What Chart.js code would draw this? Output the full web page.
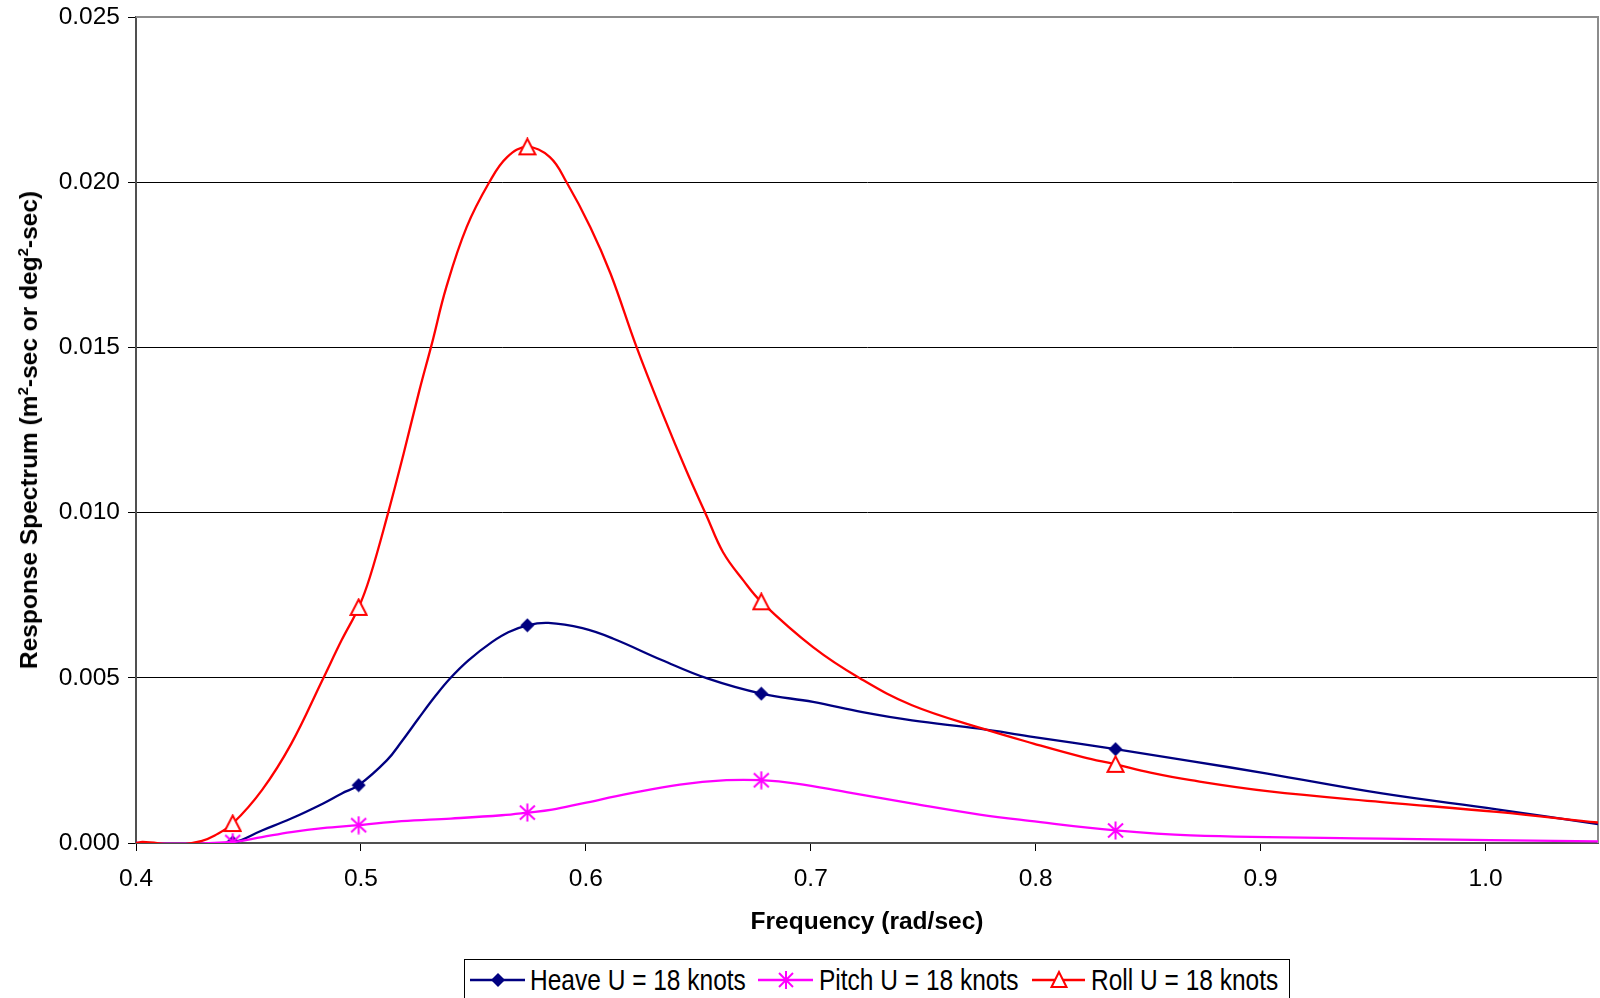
<!DOCTYPE html>
<html>
<head>
<meta charset="utf-8">
<title>Response Spectrum</title>
<script src="https://cdn.jsdelivr.net/npm/chart.js@4.4.1/dist/chart.umd.min.js"></script>
<style>
  html, body { margin: 0; padding: 0; background: #fff; }
  #wrap { position: relative; width: 1600px; height: 998px; overflow: hidden;
          font-family: "Liberation Sans", Arial, sans-serif; color: #000; }
  #chart { position: absolute; left: 0; top: 0; }
  .xtitle { position: absolute; left: 136px; width: 1462px; top: 906px; text-align: center;
            font-weight: bold; font-size: 24.5px; line-height: 30px; }
  .ytitle { position: absolute; left: 29px; top: 430px; white-space: nowrap;
            transform: translate(-50%, -50%) rotate(-90deg);
            font-weight: bold; font-size: 24.5px; line-height: 30px; }
  .ytitle sup { font-size: 15px; line-height: 0; vertical-align: 9px; }
  .legendbox { position: absolute; left: 464px; top: 959px; width: 826px; height: 70px;
               border: 1px solid #000; box-sizing: border-box; background: #fff; }
  .lgicon { position: absolute; top: 967px; }
  .lgtext { position: absolute; top: 965px; font-size: 24.5px; line-height: 30px; white-space: nowrap;
            transform: scaleY(1.2); transform-origin: 0 50%; }
</style>
</head>
<body>
<div id="wrap">
  <canvas id="chart" width="1600" height="998"></canvas>
  <div class="xtitle">Frequency (rad/sec)</div>
  <div class="ytitle">Response Spectrum (m<sup>2</sup>-sec or deg<sup>2</sup>-sec)</div>
  <div class="legendbox"></div>
  <svg class="lgicon" style="left:470px" width="56" height="26" viewBox="0 0 56 26">
    <line x1="0" y1="13" x2="55" y2="13" stroke="#000080" stroke-width="2.5"/>
    <polygon points="28,6 35,13 28,20 21,13" fill="#000080"/>
  </svg>
  <div class="lgtext" style="left:530px">Heave U = 18 knots</div>
  <svg class="lgicon" style="left:758px" width="56" height="26" viewBox="0 0 56 26">
    <line x1="0" y1="13" x2="55" y2="13" stroke="#FF00FF" stroke-width="2.5"/>
    <g stroke="#FF00FF" stroke-width="2">
      <line x1="28" y1="4" x2="28" y2="22"/>
      <line x1="21" y1="6" x2="35" y2="20"/>
      <line x1="35" y1="6" x2="21" y2="20"/>
    </g>
  </svg>
  <div class="lgtext" style="left:819px">Pitch U = 18 knots</div>
  <svg class="lgicon" style="left:1032px" width="56" height="26" viewBox="0 0 56 26">
    <line x1="0" y1="13" x2="53" y2="13" stroke="#FF0000" stroke-width="2.5"/>
    <polygon points="27,5 19.5,20 34.5,20" fill="#fff" stroke="#FF0000" stroke-width="2"/>
  </svg>
  <div class="lgtext" style="left:1091px">Roll U = 18 knots</div>
</div>
<script>
// Axis ranges and tick spacing
const xMin = 0.4, xMax = 1.05, xStep = 0.1;
const yMin = 0, yMax = 0.025, yStep = 0.005;

// Frequencies that carry a plotted marker
const markerFreq = [0.443, 0.499, 0.574, 0.678, 0.8355];

// Heave response spectrum
const heaveFreq = [0.400, 0.421, 0.443, 0.456, 0.469, 0.483, 0.4915, 0.499, 0.5115, 0.5182,
                   0.5255, 0.533, 0.5396, 0.5478, 0.5582, 0.5655, 0.574, 0.5833, 0.5985, 0.612,
                   0.634, 0.654, 0.678, 0.701, 0.723, 0.745, 0.775, 0.797, 0.8355, 0.869,
                   0.903, 0.954, 1.005, 1.05];
const heaveValues = [0.00000, -0.00005, 0.00002, 0.00038, 0.00074, 0.00119, 0.00150, 0.00175, 0.00250, 0.00308,
                     0.00376, 0.00444, 0.00498, 0.00553, 0.00608, 0.00638, 0.00659, 0.00666, 0.00650, 0.00619,
                     0.00553, 0.00498, 0.00452, 0.00427, 0.00396, 0.00371, 0.00346, 0.00323, 0.00284, 0.00248,
                     0.00210, 0.00150, 0.00102, 0.00057];

// Pitch response spectrum
const pitchFreq = [0.400, 0.421, 0.443, 0.456, 0.469, 0.483, 0.499, 0.518, 0.540, 0.5626,
                   0.574, 0.585, 0.5985, 0.6196, 0.6418, 0.6625, 0.678, 0.6936, 0.7159, 0.7454,
                   0.7751, 0.7973, 0.8355, 0.869, 0.954, 1.05];
const pitchValues = [0.00000, -0.00002, 0.00003, 0.00018, 0.00033, 0.00045, 0.00054, 0.00066, 0.00074, 0.00084,
                     0.00092, 0.00101, 0.00120, 0.00150, 0.00177, 0.00190, 0.00190, 0.00180, 0.00154, 0.00119,
                     0.00086, 0.00067, 0.00038, 0.00023, 0.00013, 0.00005];

// Roll response spectrum
const rollFreq = [0.400, 0.403, 0.419, 0.429, 0.435, 0.443, 0.456, 0.469, 0.483, 0.4915,
                  0.499, 0.504, 0.512, 0.519, 0.526, 0.5315, 0.538, 0.547, 0.557, 0.565,
                  0.574, 0.584, 0.5915, 0.602, 0.611, 0.6226, 0.6344, 0.6448, 0.6537,
                  0.661, 0.670, 0.678, 0.701, 0.722, 0.745, 0.7765, 0.799, 0.821, 0.8355,
                  0.851, 0.869, 0.903, 0.954, 1.005, 1.05];
const rollValues = [0.00000, 0.00003, -0.00005, 0.00006, 0.00023, 0.00059, 0.00160, 0.00300, 0.00495, 0.00615,
                    0.00713, 0.00805, 0.00997, 0.01179, 0.01370, 0.01510, 0.01683, 0.01864, 0.01999, 0.02076,
                    0.02107, 0.02076, 0.01999, 0.01864, 0.01723, 0.01500, 0.01295, 0.01125, 0.00990,
                    0.00880, 0.00795, 0.00730, 0.00593, 0.00498, 0.00417, 0.00346, 0.00301, 0.00260, 0.00238,
                    0.00213, 0.00190, 0.00157, 0.00124, 0.00094, 0.00062];

const seriesNames = ['Heave U = 18 knots', 'Pitch U = 18 knots', 'Roll U = 18 knots'];
const seriesColors = ['#000080', '#FF00FF', '#FF0000'];

// Marker glyphs drawn once into small canvases
function glyph(size, paint) {
  const c = document.createElement('canvas');
  c.width = size; c.height = size;
  paint(c.getContext('2d'), size);
  return c;
}
const diamond = glyph(15, (g) => {
  g.fillStyle = seriesColors[0];
  g.beginPath(); g.moveTo(7.5, 0.5); g.lineTo(14.5, 7.5); g.lineTo(7.5, 14.5); g.lineTo(0.5, 7.5);
  g.closePath(); g.fill();
});
const asterisk = glyph(19, (g) => {
  g.strokeStyle = seriesColors[1]; g.lineWidth = 2;
  g.beginPath();
  g.moveTo(9.5, 0.5); g.lineTo(9.5, 18.5);
  g.moveTo(2, 2.5); g.lineTo(17, 16.5);
  g.moveTo(17, 2.5); g.lineTo(2, 16.5);
  g.stroke();
});
const triangle = glyph(19, (g) => {
  g.strokeStyle = seriesColors[2]; g.fillStyle = '#fff'; g.lineWidth = 2;
  g.beginPath(); g.moveTo(9.5, 1.5); g.lineTo(1.5, 17); g.lineTo(17.5, 17); g.closePath();
  g.fill(); g.stroke();
});

const isMarker = (x) => markerFreq.some((m) => Math.abs(m - x) < 1e-9);
const toPoints = (freq, values) => freq.map((f, i) => ({ x: f, y: values[i] }));

function dataset(i, freq, values, img) {
  return {
    label: seriesNames[i],
    data: toPoints(freq, values),
    borderColor: seriesColors[i],
    backgroundColor: seriesColors[i],
    borderWidth: 2.3,
    tension: 0.4,
    pointStyle: img,
    pointRadius: (c) => (c.raw && isMarker(c.raw.x) ? 8 : 0),
    pointHoverRadius: 0
  };
}

// Grey frame along the top and right of the plot area
const plotFrame = {
  id: 'plotFrame',
  beforeDatasetsDraw(chart) {
    const { ctx, chartArea: a } = chart;
    ctx.save();
    ctx.strokeStyle = '#8c8c8c';
    ctx.lineWidth = 2;
    ctx.beginPath();
    ctx.moveTo(a.left, a.top);
    ctx.lineTo(a.right, a.top);
    ctx.lineTo(a.right, a.bottom);
    ctx.stroke();
    ctx.restore();
  }
};

const tickFont = { family: '"Liberation Sans", Arial, sans-serif', size: 24.5 };

new Chart(document.getElementById('chart'), {
  type: 'line',
  data: {
    datasets: [
      dataset(2, rollFreq, rollValues, triangle),
      dataset(1, pitchFreq, pitchValues, asterisk),
      dataset(0, heaveFreq, heaveValues, diamond)
    ]
  },
  options: {
    responsive: false,
    animation: false,
    events: [],
    layout: { padding: { left: 0, top: 17, right: 2, bottom: 0 } },
    plugins: { legend: { display: false }, tooltip: { enabled: false } },
    scales: {
      x: {
        type: 'linear',
        min: xMin, max: xMax,
        ticks: {
          stepSize: xStep, includeBounds: false, autoSkip: false, maxRotation: 0,
          color: '#000', font: tickFont, padding: 14,
          callback: (v) => Number(v).toFixed(1)
        },
        grid: { drawOnChartArea: false, drawTicks: true, tickLength: 8, tickColor: '#000', tickWidth: 1 },
        border: { color: '#505050', width: 2 },
        afterFit: (s) => { s.height = 155; s.paddingLeft = 0; s.paddingRight = 0; }
      },
      y: {
        min: yMin, max: yMax,
        ticks: {
          stepSize: yStep, color: '#000', font: tickFont, padding: 8,
          callback: (v) => Number(v).toFixed(3)
        },
        grid: {
          color: (c) => (c.tick && c.tick.value > yMax - 1e-9 ? 'rgba(0,0,0,0)' : '#000'),
          lineWidth: 1, tickLength: 8, tickColor: '#000', tickWidth: 1
        },
        border: { color: '#505050', width: 2 },
        afterFit: (s) => { s.width = 136; s.paddingTop = 0; s.paddingBottom = 0; }
      }
    }
  },
  plugins: [plotFrame]
});
</script>
</body>
</html>
